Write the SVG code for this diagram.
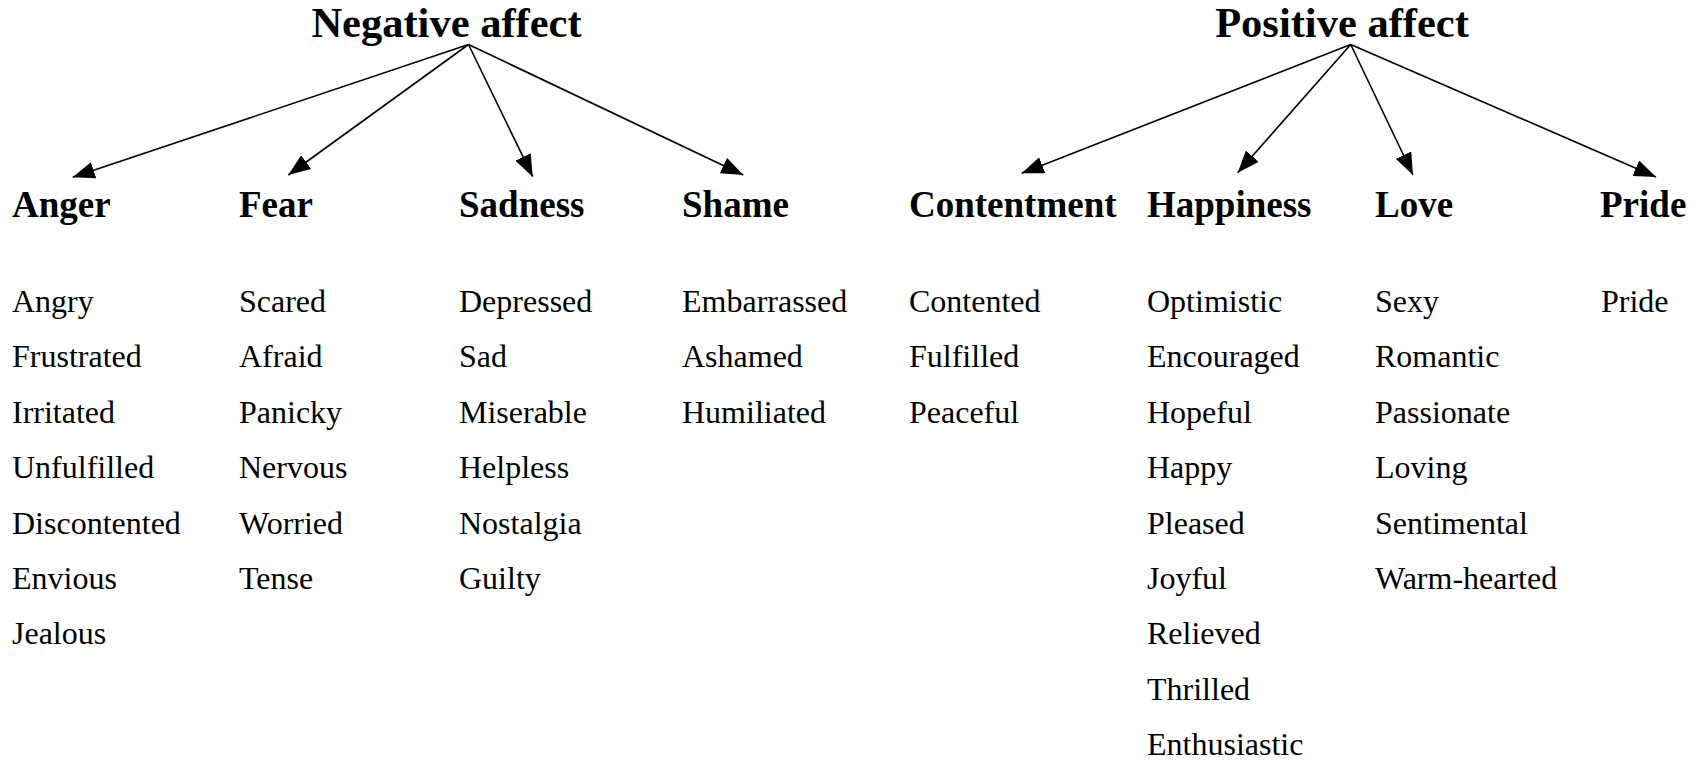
<svg xmlns="http://www.w3.org/2000/svg" width="1697" height="760" viewBox="0 0 1697 760">
<defs>
<marker id="ah" viewBox="0 0 22 17" refX="22" refY="8.5" markerWidth="22" markerHeight="17" markerUnits="userSpaceOnUse" orient="auto">
<path d="M0,0 L22,8.5 L0,17 z" fill="#000"/>
</marker>
<style>
text{font-family:"Liberation Serif","Times New Roman",serif;fill:#000}
.h{font-size:42.5px;font-weight:bold;text-anchor:middle}
.c{font-size:37px;font-weight:bold}
.w{font-size:32px}
.e{stroke:#000;stroke-width:1.6;fill:none;marker-end:url(#ah)}
</style>
</defs>
<rect width="1697" height="760" fill="#fff"/>
<g id="connectors">
<line class="e" x1="468.5" y1="44.5" x2="72.7" y2="177.3"/>
<line class="e" x1="468.5" y1="44.5" x2="288.3" y2="175"/>
<line class="e" x1="468.5" y1="44.5" x2="532.7" y2="176.7"/>
<line class="e" x1="468.5" y1="44.5" x2="743.3" y2="175"/>
<line class="e" x1="1350.7" y1="44.5" x2="1021.7" y2="173.3"/>
<line class="e" x1="1350.7" y1="44.5" x2="1237.7" y2="172.7"/>
<line class="e" x1="1350.7" y1="44.5" x2="1413" y2="175"/>
<line class="e" x1="1350.7" y1="44.5" x2="1656" y2="177"/>
</g>
<g id="negative-affect"><text class="h" x="446.5" y="37">Negative affect</text></g>
<g id="positive-affect"><text class="h" x="1342" y="37">Positive affect</text></g>
<g id="anger">
<text class="c" x="12" y="217">Anger</text>
<text class="w" x="12" y="312">Angry</text>
<text class="w" x="12" y="367.4">Frustrated</text>
<text class="w" x="12" y="422.8">Irritated</text>
<text class="w" x="12" y="478.2">Unfulfilled</text>
<text class="w" x="12" y="533.6">Discontented</text>
<text class="w" x="12" y="589">Envious</text>
<text class="w" x="12" y="644.4">Jealous</text>
</g>
<g id="fear">
<text class="c" x="239" y="217">Fear</text>
<text class="w" x="239" y="312">Scared</text>
<text class="w" x="239" y="367.4">Afraid</text>
<text class="w" x="239" y="422.8">Panicky</text>
<text class="w" x="239" y="478.2">Nervous</text>
<text class="w" x="239" y="533.6">Worried</text>
<text class="w" x="239" y="589">Tense</text>
</g>
<g id="sadness">
<text class="c" x="459" y="217">Sadness</text>
<text class="w" x="459" y="312">Depressed</text>
<text class="w" x="459" y="367.4">Sad</text>
<text class="w" x="459" y="422.8">Miserable</text>
<text class="w" x="459" y="478.2">Helpless</text>
<text class="w" x="459" y="533.6">Nostalgia</text>
<text class="w" x="459" y="589">Guilty</text>
</g>
<g id="shame">
<text class="c" x="682" y="217">Shame</text>
<text class="w" x="682" y="312">Embarrassed</text>
<text class="w" x="682" y="367.4">Ashamed</text>
<text class="w" x="682" y="422.8">Humiliated</text>
</g>
<g id="contentment">
<text class="c" x="909" y="217">Contentment</text>
<text class="w" x="909" y="312">Contented</text>
<text class="w" x="909" y="367.4">Fulfilled</text>
<text class="w" x="909" y="422.8">Peaceful</text>
</g>
<g id="happiness">
<text class="c" x="1147" y="217">Happiness</text>
<text class="w" x="1147" y="312">Optimistic</text>
<text class="w" x="1147" y="367.4">Encouraged</text>
<text class="w" x="1147" y="422.8">Hopeful</text>
<text class="w" x="1147" y="478.2">Happy</text>
<text class="w" x="1147" y="533.6">Pleased</text>
<text class="w" x="1147" y="589">Joyful</text>
<text class="w" x="1147" y="644.4">Relieved</text>
<text class="w" x="1147" y="699.8">Thrilled</text>
<text class="w" x="1147" y="755.2">Enthusiastic</text>
</g>
<g id="love">
<text class="c" x="1375" y="217">Love</text>
<text class="w" x="1375" y="312">Sexy</text>
<text class="w" x="1375" y="367.4">Romantic</text>
<text class="w" x="1375" y="422.8">Passionate</text>
<text class="w" x="1375" y="478.2">Loving</text>
<text class="w" x="1375" y="533.6">Sentimental</text>
<text class="w" x="1375" y="589">Warm-hearted</text>
</g>
<g id="pride">
<text class="c" x="1600" y="217">Pride</text>
<text class="w" x="1601" y="312">Pride</text>
</g>
</svg>
